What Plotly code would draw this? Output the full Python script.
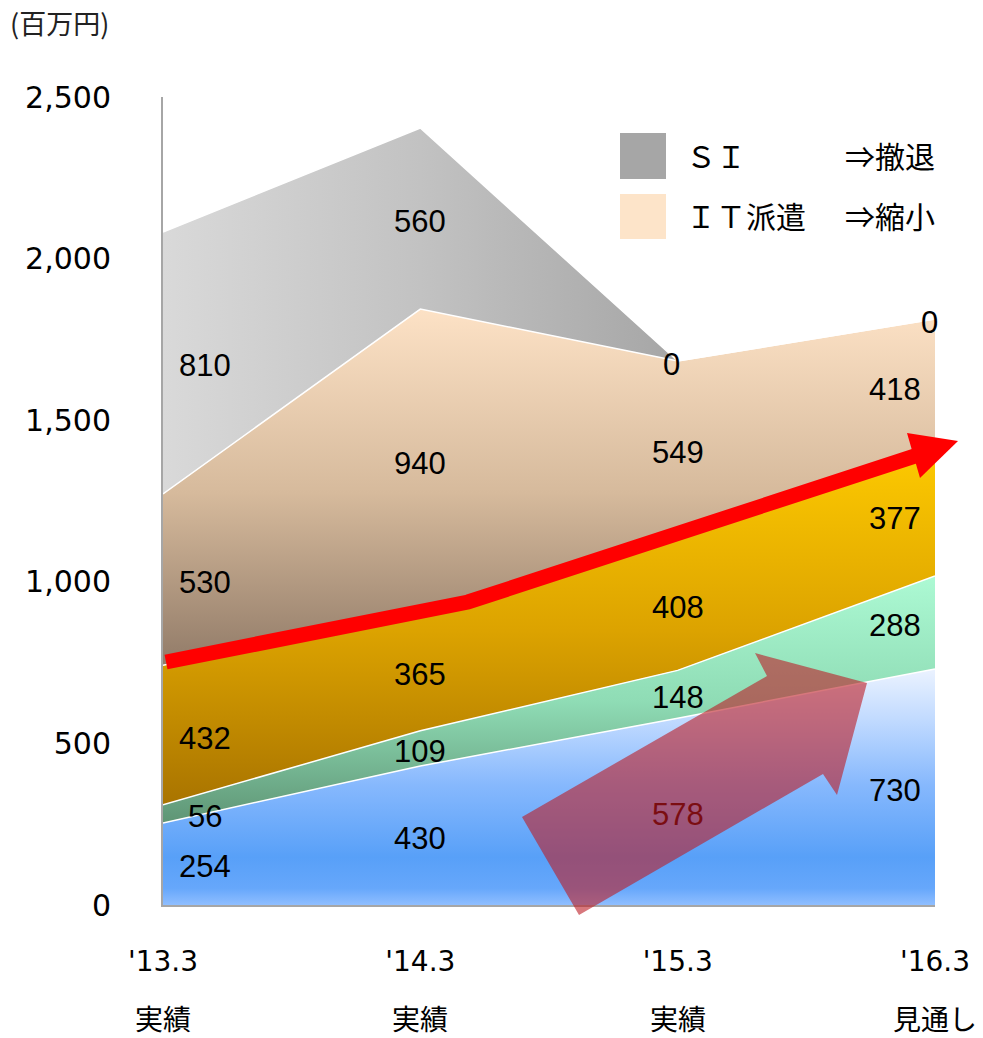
import numpy as np
import plotly.graph_objects as go

# ---------------- data ----------------
categories = ["'13.3", "'14.3", "'15.3", "'16.3"]
subtitles = ["実績", "実績", "実績", "見通し"]
series_names = ["A", "B", "C", "ＩＴ派遣", "ＳＩ"]
values_a = [254, 430, 578, 730]
values_b = [56, 109, 148, 288]
values_c = [432, 365, 408, 377]
values_it = [530, 940, 549, 418]
values_si = [810, 560, 0, 0]
y_ticks = [0, 500, 1000, 1500, 2000, 2500]

# ---------------- layout geometry (pixels) ----------------
W, H = 983, 1038
ML, MR, MT, MB = 163, 48, 97, 133
PW, PH = W - ML - MR, H - MT - MB


def px(xp):
    return (xp - ML) / PW


def py(yp):
    return (H - MB - yp) / PH


xs = list(range(len(categories)))
series = [values_a, values_b, values_c, values_it, values_si]

gradients = [
    dict(type="vertical", start=0, stop=740,
         colorscale=[[0, "#8fbeff"], [0.07, "#66a7fb"], [0.2, "#58a0f8"],
                     [0.5, "#86b8fd"], [0.78, "#c2dbff"], [1, "#eef4ff"]]),
    dict(type="vertical", start=250, stop=1010,
         colorscale=[[0, "#5e9474"], [0.5, "#8fdcb5"], [1, "#acf9d3"]]),
    dict(type="vertical", start=300, stop=1400,
         colorscale=[[0, "#a87300"], [0.5, "#dca300"], [1, "#fdc900"]]),
    dict(type="vertical", start=700, stop=1850,
         colorscale=[[0, "#8c7664"], [0.5, "#d6ba9c"], [1, "#fde2c6"]]),
    dict(type="horizontal", start=0, stop=2,
         colorscale=[[0, "#d9d9d9"], [0.5, "#c2c2c2"], [1, "#a6a6a6"]]),
]

fig = go.Figure()
for name, vals, grad in zip(series_names, series, gradients):
    fig.add_trace(go.Scatter(
        x=xs, y=vals, name=name, mode="lines", stackgroup="one",
        line=dict(color="white", width=1.5),
        fillgradient=grad, hoverinfo="skip", showlegend=False,
    ))

# data labels at band midpoints
cum = np.zeros(len(categories))
col_shift = [42, 0, 0, -40]
for vals in series:
    v = np.array(vals, dtype=float)
    mid = cum + v / 2
    for i in range(len(categories)):
        color = "#7b0d12" if (vals is values_a and i == 2) else "black"
        xshift = -6 if vals[i] == 0 else col_shift[i]
        fig.add_annotation(x=xs[i], y=mid[i], text=str(vals[i]), showarrow=False,
                           xshift=xshift, yshift=-3,
                           font=dict(family="Liberation Sans, Arial", size=31, color=color))
    cum = cum + v

# second row of x labels
for i, s in enumerate(subtitles):
    fig.add_annotation(x=xs[i], y=py(1018), yref="paper", text=s, showarrow=False,
                       xanchor="center", yanchor="middle",
                       font=dict(family="Noto Sans CJK JP", size=28, color="black"))

# unit label
fig.add_annotation(x=px(8), y=py(22), xref="paper", yref="paper", text="(百万円)",
                   showarrow=False, xanchor="left", yanchor="middle",
                   font=dict(family="Noto Sans CJK JP", size=27, color="#222222"))

# legend (manual)
fig.add_shape(type="rect", xref="paper", yref="paper", x0=px(620), x1=px(666),
              y0=py(179), y1=py(133), fillcolor="#a6a6a6", line=dict(width=0))
fig.add_shape(type="rect", xref="paper", yref="paper", x0=px(620), x1=px(666),
              y0=py(239), y1=py(194), fillcolor="#fde4c9", line=dict(width=0))
leg_font = dict(family="Noto Sans CJK JP", size=30, color="black")
for txt, xp, yp in [("ＳＩ", 684, 155), ("⇒撤退", 843, 155),
                    ("ＩＴ派遣", 684, 215), ("⇒縮小", 843, 215)]:
    fig.add_annotation(x=px(xp), y=py(yp), xref="paper", yref="paper", text=txt,
                       showarrow=False, xanchor="left", yanchor="middle", font=leg_font)

# red growth arrow
fig.add_shape(type="path", xref="paper", yref="paper",
              path=f"M {px(166)} {py(662)} L {px(468)} {py(602)} L {px(918)} {py(455)}",
              line=dict(color="#ff0000", width=15), layer="above")
fig.add_shape(type="path", xref="paper", yref="paper",
              path=f"M {px(907)} {py(433)} L {px(958)} {py(441)} L {px(920)} {py(478)} Z",
              fillcolor="#ff0000", line=dict(width=0), layer="above")

# translucent block arrow
pts = [(522, 817), (767, 676), (755, 653), (867, 683), (837, 795), (823, 774), (579, 915)]
path = "M " + " L ".join(f"{px(a)} {py(b)}" for a, b in pts) + " Z"
fig.add_shape(type="path", xref="paper", yref="paper", path=path,
              fillcolor="rgba(188,28,36,0.6)", line=dict(width=0), layer="above")

fig.update_layout(
    width=W, height=H,
    margin=dict(l=ML, r=MR, t=MT, b=MB),
    plot_bgcolor="white", paper_bgcolor="white",
    showlegend=False,
    xaxis=dict(range=[0, len(categories) - 1], tickvals=xs, ticktext=categories,
               showgrid=False, zeroline=False, showline=True, linecolor="#a6a6a6",
               linewidth=2, ticks="", ticklabelstandoff=30,
               tickfont=dict(family="DejaVu Sans", size=28, color="black")),
    yaxis=dict(range=[0, 2500], tickvals=y_ticks, tickformat=",",
               showgrid=False, zeroline=False, showline=True, linecolor="#a6a6a6",
               linewidth=2, ticks="", ticklabelstandoff=44,
               tickfont=dict(family="DejaVu Sans", size=30, color="black")),
)

fig.write_html("out.html")
